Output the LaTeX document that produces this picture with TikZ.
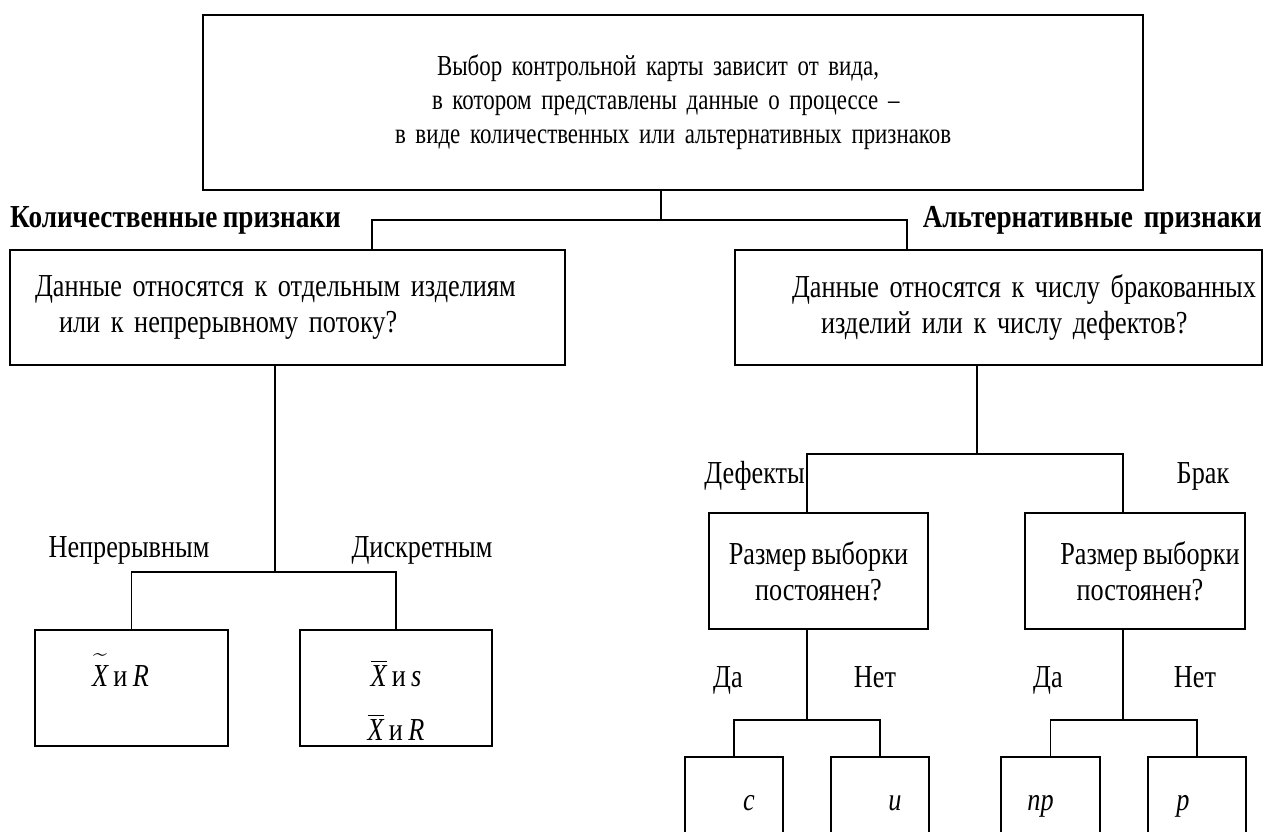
\documentclass[tikz,border=0pt]{standalone}
\usepackage{amsmath}
\usepackage{fontspec}
\setmainfont{Liberation Serif}[FakeStretch=0.82, WordSpace=0.8]
\newfontfamily\headfont{Liberation Serif}[FakeStretch=0.85, WordSpace=0.8]
\newfontfamily\topfont{Liberation Serif}[FakeStretch=0.79, WordSpace=0.8]
\usetikzlibrary{positioning}

\begin{document}
\begin{tikzpicture}[
  x=1pt, y=-1pt,
  every node/.style={font=\fontsize{32}{36}\selectfont},
  box/.style={draw, line width=1.6pt, inner sep=0pt, align=center},
  leftbox/.style={box, align=left},
  chart/.style={box, minimum width=98pt, minimum height=100pt, text height=14pt, text depth=7pt},
  head/.style={inner sep=0pt, font=\fontsize{32}{36}\headfont\bfseries},
  tag/.style={inner sep=0pt, text height=21pt, text depth=7pt},
  link/.style={line width=1.6pt}
]
\useasboundingbox (0,0) rectangle (1264,831);
\clip (0,0) rectangle (1264,831);

% ---------- question boxes ----------
\node[leftbox, text width=940pt, minimum height=175pt, font=\fontsize{29}{34}\topfont] (choice) at (673,102.5)
  {\hspace*{234pt}\mbox{Выбор контрольной карты зависит от вида,}\\
   \hspace*{229pt}\mbox{в котором представлены данные о процессе –}\\
   \hspace*{192pt}\mbox{в виде количественных или альтернативных признаков}};
\node[leftbox, text width=555pt, minimum height=115pt] (items) at (287.5,307.5)
  {\hspace*{25pt}\mbox{Данные относятся к отдельным изделиям}\\ \hspace*{49pt}\mbox{или к непрерывному потоку?}};
\node[leftbox, text width=527pt, minimum height=115pt] (flaws) at (998.5,307.5)
  {\hspace*{57pt}\mbox{Данные относятся к числу бракованных}\\ \hspace*{86pt}\mbox{изделий или к числу дефектов?}};
\node[head, anchor=west] (quant) at (10,220) {Количественные признаки};
\node[head, anchor=east] (alt) at (1262,220) {Альтернативные\ \ признаки};

% ---------- left branch ----------
\node[tag] (cont) at (129,550) {Непрерывным};
\node[tag] (discr) at (422,550) {Дискретным};
\node[box, minimum width=193pt, minimum height=116pt] (median) at (131.5,688)
  {\rule{0pt}{56pt}$\widetilde{\textit{X}\rule{0pt}{25pt}}$ и \textit{R}\hspace*{22pt}\rule[-60pt]{0pt}{60pt}};
\node[box, minimum width=192pt, minimum height=116pt] (xbar) at (396,688)
  {\rule{0pt}{56pt}$\overline{\textit{X}}$ и \textit{s}\\[18pt] $\overline{\textit{X}}$ и \textit{R}\rule[-6pt]{0pt}{6pt}};

% ---------- right branch ----------
\node[tag, anchor=east] (defl) at (805,476) {Дефекты};
\node[tag] (rejl) at (1203,476) {Брак};
\node[box, minimum width=219pt, minimum height=116pt] (defsize) at (818.5,571)
  {Размер выборки\\ постоянен?};
\node[box, minimum width=220pt, minimum height=116pt] (rejsize) at (1135,571)
  {\hspace*{30pt}Размер выборки\\ \hspace*{10pt}постоянен?};
\node[tag] (yes1) at (728,680) {Да};
\node[tag] (no1) at (875,680) {Нет};
\node[tag] (yes2) at (1048,680) {Да};
\node[tag] (no2) at (1195,680) {Нет};
\node[chart] (cbox) at (734,807) {\hspace*{30pt}\textit{c}};
\node[chart] (ubox) at (880,807) {\hspace*{30pt}\textit{u}};
\node[chart, minimum width=99pt] (npbox) at (1050.5,807) {\textit{np}\hspace*{20pt}};
\node[chart] (pbox) at (1197,807) {\textit{p}\hspace*{28pt}};

% ---------- junctions ----------
\coordinate (topfork) at (661,220);
\coordinate (forkL) at (372,220);
\coordinate (forkR) at (907,220);
\coordinate (split) at (275,572);
\coordinate (split2) at (977,454);
\coordinate (dq) at (807,454);
\coordinate (bq) at (1123,454);
\coordinate (dsplit) at (807,720);
\coordinate (bsplit) at (1123,720);

% ---------- connectors ----------
\draw[link] (choice.south -| topfork) -- (topfork);
\draw[link] (items.north -| forkL) -- (forkL) -- (forkR) -- (flaws.north -| forkR);
\draw[link] (items.south -| split) -- (split);
\draw[link] (median.north) -- (median.north |- split) -- (xbar.north |- split) -- (xbar.north);
\draw[link] (flaws.south -| split2) -- (split2);
\draw[link] (defsize.north -| dq) -- (dq) -- (bq) -- (rejsize.north -| bq);
\draw[link] (defsize.south -| dsplit) -- (dsplit);
\draw[link] (cbox.north) -- (cbox.north |- dsplit) -- (ubox.north |- dsplit) -- (ubox.north);
\draw[link] (rejsize.south -| bsplit) -- (bsplit);
\draw[link] (npbox.north) -- (npbox.north |- bsplit) -- (pbox.north |- bsplit) -- (pbox.north);
\end{tikzpicture}
\end{document}
